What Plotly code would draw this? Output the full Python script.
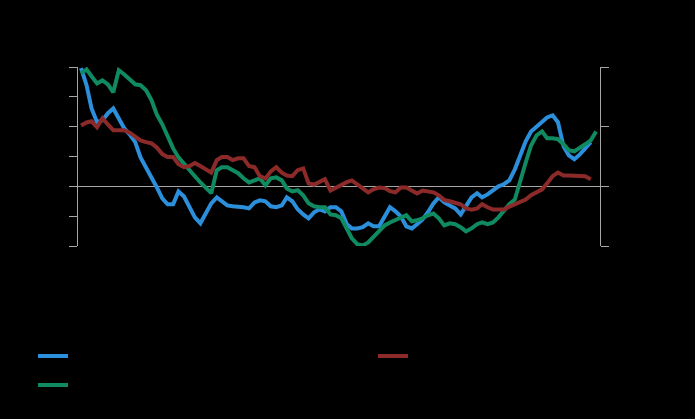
import plotly.graph_objects as go
import pandas as pd

dates = pd.date_range("2007-01-01", periods=96, freq="MS").strftime("%Y-%m-%d").tolist()

series_a = [3.96, 3.39, 2.61, 2.15, 2.21, 2.45, 2.61, 2.25, 1.94, 1.74,
            1.48, 0.97, 0.64, 0.30, -0.03, -0.40, -0.60, -0.60, -0.17, -0.34,
            -0.67, -1.04, -1.24, -0.94, -0.57, -0.37, -0.50, -0.64, -0.67, -0.67,
            -0.70, -0.74, -0.54, -0.47, -0.50, -0.67, -0.70, -0.64, -0.37, -0.50,
            -0.77, -0.94, -1.07, -0.87, -0.77, -0.84, -0.70, -0.70, -0.84, -1.27,
            -1.41, -1.41, -1.37, -1.24, -1.34, -1.34, -1.01, -0.70, -0.84, -1.01,
            -1.34, -1.41, -1.27, -1.11, -0.87, -0.57, -0.37, -0.54, -0.64, -0.74,
            -0.94, -0.67, -0.37, -0.23, -0.37, -0.27, -0.13, 0.00, 0.07, 0.20,
            0.57, 1.01, 1.51, 1.84, 2.01, 2.18, 2.31, 2.38, 2.15, 1.34,
            1.04, 0.91, 1.07, 1.27, 1.48, None]

series_b = [3.79, 3.92, 3.69, 3.45, 3.55, 3.42, 3.15, 3.89, 3.75, 3.59,
            3.42, 3.39, 3.22, 2.88, 2.41, 2.08, 1.68, 1.27, 0.97, 0.74,
            0.54, 0.34, 0.13, -0.07, -0.23, 0.54, 0.64, 0.64, 0.54, 0.44,
            0.27, 0.13, 0.20, 0.27, 0.03, 0.27, 0.30, 0.20, -0.07, -0.17,
            -0.13, -0.30, -0.57, -0.67, -0.70, -0.70, -0.94, -0.97, -1.07, -1.41,
            -1.74, -1.94, -1.98, -1.88, -1.68, -1.48, -1.31, -1.21, -1.14, -1.07,
            -0.97, -1.17, -1.14, -1.07, -0.97, -0.91, -1.07, -1.31, -1.24, -1.27,
            -1.37, -1.51, -1.41, -1.27, -1.21, -1.27, -1.21, -1.04, -0.80, -0.60,
            -0.44, 0.20, 0.80, 1.37, 1.71, 1.84, 1.61, 1.61, 1.58, 1.41,
            1.21, 1.17, 1.31, 1.41, 1.54, 1.84]

series_c = [1.02, 1.07, 1.09, 0.99, 1.14, 1.04, 0.94, 0.94, 0.94, 0.90,
            0.84, 0.77, 0.74, 0.72, 0.65, 0.54, 0.49, 0.49, 0.37, 0.32,
            0.34, 0.39, 0.34, 0.28, 0.23, 0.44, 0.49, 0.49, 0.44, 0.47,
            0.47, 0.34, 0.32, 0.17, 0.13, 0.25, 0.32, 0.23, 0.18, 0.17,
            0.27, 0.30, 0.05, 0.03, 0.08, 0.12, -0.07, -0.02, 0.03, 0.07,
            0.10, 0.03, -0.03, -0.10, -0.05, -0.02, -0.03, -0.08, -0.10, -0.02,
            -0.02, -0.07, -0.12, -0.07, -0.08, -0.10, -0.15, -0.23, -0.25, -0.27,
            -0.30, -0.37, -0.39, -0.37, -0.30, -0.35, -0.39, -0.39, -0.39, -0.34,
            -0.30, -0.25, -0.22, -0.15, -0.10, -0.05, 0.05, 0.17, 0.23, 0.18,
            0.18, 0.18, 0.18, 0.17, 0.12, None]

left_ticks = [-2, -1, 0, 1, 2, 3, 4]
right_ticks = [-1, 0, 1, 2]

BLUE = "#2b8fdc"
GREEN = "#108a60"
RED = "#8c2a2a"
AXIS = "#a6a6a6"

fig = go.Figure()
fig.add_trace(go.Scatter(x=dates, y=series_a, name="Series A (left axis)",
                         mode="lines", line=dict(color=BLUE, width=4),
                         legend="legend"))
fig.add_trace(go.Scatter(x=dates, y=series_c, name="Series C (right axis)",
                         mode="lines", line=dict(color=RED, width=4), yaxis="y2",
                         legend="legend2"))
fig.add_trace(go.Scatter(x=dates, y=series_b, name="Series B (left axis)",
                         mode="lines", line=dict(color=GREEN, width=4),
                         legend="legend"))

legend_common = dict(orientation="v", xref="container", xanchor="left",
                     yref="container", yanchor="middle",
                     font=dict(color="black", size=20),
                     bgcolor="rgba(0,0,0,0)", traceorder="normal")

fig.update_layout(
    width=695, height=419,
    paper_bgcolor="black", plot_bgcolor="black",
    font=dict(family="Liberation Sans, Arial, sans-serif", color="black", size=12),
    margin=dict(l=78, r=95, t=67, b=173, autoexpand=False),
    showlegend=True,
    legend=dict(x=33/695, y=(419 - 370.5) / 419, **legend_common),
    legend2=dict(x=373/695, y=(419 - 356) / 419, **legend_common),
    xaxis=dict(range=["2006-12-15", "2014-12-23"], showgrid=False, zeroline=False,
               showline=False, ticks="", tickfont=dict(color="black")),
    yaxis=dict(range=[-2, 4], tickvals=left_ticks, showgrid=False,
               zeroline=True, zerolinecolor=AXIS, zerolinewidth=1,
               showline=True, linecolor=AXIS, linewidth=1,
               ticks="outside", ticklen=8, tickcolor=AXIS,
               tickfont=dict(color="black")),
    yaxis2=dict(range=[-1, 2], tickvals=right_ticks, overlaying="y", side="right",
                showgrid=False, zeroline=False,
                showline=True, linecolor=AXIS, linewidth=1,
                ticks="outside", ticklen=8, tickcolor=AXIS,
                tickfont=dict(color="black")),
)

fig.write_html("out.html", config={"displayModeBar": False},
               post_script="document.body.style.margin='0';document.body.style.background='black';")
